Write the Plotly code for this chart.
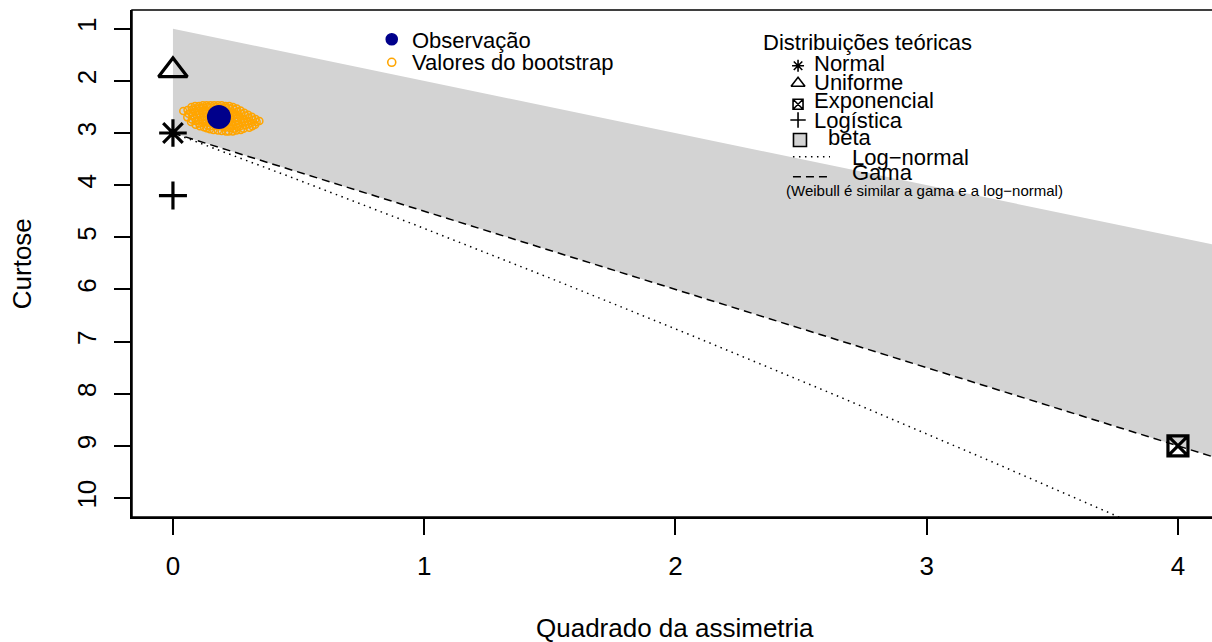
import plotly.graph_objects as go

# Observed sample: squared skewness and kurtosis
obs_sq_skew = [0.183]
obs_kurt = [2.695]

# Bootstrap replicates of (squared skewness, kurtosis)
boot_sq_skew = [
    0.041,
    0.058, 0.062, 0.057,
    0.074, 0.077, 0.073, 0.078, 0.075, 0.072,
    0.088, 0.092, 0.089, 0.093, 0.087, 0.091, 0.090,
    0.104, 0.107, 0.103, 0.106, 0.108, 0.102, 0.105, 0.107,
    0.119, 0.121, 0.118, 0.124, 0.122, 0.117, 0.120, 0.123,
    0.134, 0.137, 0.131, 0.136, 0.139, 0.133, 0.135, 0.138, 0.134,
    0.149, 0.151, 0.148, 0.153, 0.150, 0.146, 0.152, 0.150, 0.147,
    0.164, 0.168, 0.162, 0.166, 0.169, 0.163, 0.165, 0.167, 0.161,
    0.179, 0.181, 0.178, 0.184, 0.182, 0.176, 0.180, 0.183, 0.179,
    0.194, 0.198, 0.192, 0.196, 0.197, 0.193, 0.195, 0.199, 0.194,
    0.209, 0.211, 0.207, 0.213, 0.210, 0.206, 0.212, 0.208, 0.211,
    0.224, 0.227, 0.221, 0.226, 0.229, 0.223, 0.225, 0.228, 0.222,
    0.239, 0.243, 0.238, 0.241, 0.244, 0.236, 0.240, 0.242, 0.238,
    0.254, 0.256, 0.252, 0.258, 0.255, 0.251, 0.257, 0.253,
    0.269, 0.272, 0.267, 0.271, 0.274, 0.268, 0.270,
    0.284, 0.288, 0.283, 0.286, 0.287, 0.281,
    0.299, 0.302, 0.297, 0.301, 0.304,
    0.314, 0.318, 0.312, 0.316,
    0.329, 0.333, 0.327,
    0.344,
]
boot_kurt = [
    2.58,
    2.56, 2.63, 2.70,
    2.50, 2.55, 2.61, 2.67, 2.74, 2.79,
    2.48, 2.53, 2.59, 2.65, 2.71, 2.77, 2.84,
    2.48, 2.52, 2.58, 2.64, 2.70, 2.76, 2.82, 2.87,
    2.47, 2.51, 2.57, 2.63, 2.69, 2.75, 2.81, 2.89,
    2.47, 2.50, 2.56, 2.62, 2.68, 2.74, 2.80, 2.86, 2.91,
    2.47, 2.51, 2.57, 2.63, 2.69, 2.75, 2.81, 2.87, 2.93,
    2.47, 2.50, 2.56, 2.62, 2.68, 2.74, 2.80, 2.86, 2.94,
    2.47, 2.51, 2.57, 2.63, 2.69, 2.75, 2.81, 2.87, 2.95,
    2.47, 2.52, 2.58, 2.64, 2.70, 2.76, 2.82, 2.88, 2.96,
    2.48, 2.52, 2.58, 2.64, 2.70, 2.76, 2.83, 2.90, 2.97,
    2.48, 2.53, 2.59, 2.65, 2.71, 2.78, 2.85, 2.91, 2.97,
    2.50, 2.55, 2.61, 2.67, 2.73, 2.79, 2.86, 2.92, 2.97,
    2.53, 2.59, 2.65, 2.71, 2.77, 2.83, 2.89, 2.95,
    2.57, 2.63, 2.69, 2.75, 2.81, 2.87, 2.94,
    2.61, 2.67, 2.73, 2.79, 2.85, 2.92,
    2.65, 2.71, 2.77, 2.83, 2.90,
    2.69, 2.75, 2.81, 2.87,
    2.73, 2.79, 2.84,
    2.77,
]

# Theoretical distributions shown as single points
theo_names = ["Normal", "Uniforme", "Exponencial", "Logística"]
theo_sq_skew = [0, 0, 4, 0]
theo_kurt = [3, 1.8, 9, 4.2]

# Beta region (between the lower bound and the gamma line)
beta_sq_skew = [0, 4.3, 4.3, 0]
beta_kurt = [1, 5.3, 9.45, 3]

# Gamma line and log-normal curve
gamma_sq_skew = [0, 4.3]
gamma_kurt = [3, 9.45]
lnorm_sq_skew = [0, 0.465, 0.961, 1.488, 2.048, 2.641, 3.267, 3.793]
lnorm_kurt = [3, 3.838, 4.756, 5.758, 6.850, 8.035, 9.320, 10.423]

x_ticks = [0, 1, 2, 3, 4]
y_ticks = [1, 2, 3, 4, 5, 6, 7, 8, 9, 10]

FONT = "Liberation Sans, Arial, Helvetica, sans-serif"
GRAY = "#D3D3D3"
DASH = "8px,5px"
DOT = "1.5px,4.5px"

fig = go.Figure()

fig.add_trace(go.Scatter(x=beta_sq_skew, y=beta_kurt, mode="lines", fill="toself",
                         fillcolor=GRAY, line=dict(width=0), hoverinfo="skip"))
fig.add_trace(go.Scatter(x=gamma_sq_skew, y=gamma_kurt, mode="lines",
                         line=dict(color="black", width=1.5, dash=DASH)))
fig.add_trace(go.Scatter(x=lnorm_sq_skew, y=lnorm_kurt, mode="lines",
                         line=dict(color="black", width=1.5, dash=DOT)))
fig.add_trace(go.Scatter(
    x=theo_sq_skew, y=theo_kurt, mode="markers", text=theo_names,
    marker=dict(symbol=["asterisk-open", "triangle-up-open", "square-x-open", "cross-thin-open"],
                size=[23, 25, 20, 20], color="black", opacity=1,
                line=dict(color="black", width=3.2))))
fig.add_trace(go.Scatter(x=boot_sq_skew, y=boot_kurt, mode="markers",
                         marker=dict(symbol="circle-open", size=7, color="orange", opacity=1,
                                     line=dict(color="orange", width=1.5))))
fig.add_trace(go.Scatter(x=obs_sq_skew, y=obs_kurt, mode="markers",
                         marker=dict(symbol="circle", size=24, color="darkblue", opacity=1)))

# Legend keys, placed in plot-area fractions on an overlay axis pair
key_x = [0.2405, 0.2405, 0.6167, 0.6167, 0.6167, 0.6167, 0.6185]
key_y = [0.9422, 0.8968, 0.8901, 0.8554, 0.8140, 0.7830, 0.7436]
key_sym = ["circle", "circle-open", "asterisk-open", "triangle-up-open",
           "square-x-open", "cross-thin-open", "square"]
key_size = [11, 8, 10, 12, 10, 11, 13]
key_fill = ["darkblue", "orange", "black", "black", "black", "black", GRAY]
key_line = ["darkblue", "orange", "black", "black", "black", "black", "black"]
fig.add_trace(go.Scatter(
    x=key_x, y=key_y, mode="markers", xaxis="x2", yaxis="y2",
    marker=dict(symbol=key_sym, size=key_size, color=key_fill, opacity=1,
                line=dict(color=key_line, width=1.6))))
fig.add_trace(go.Scatter(x=[0.6120, 0.6463], y=[0.7107, 0.7107], mode="lines",
                         xaxis="x2", yaxis="y2",
                         line=dict(color="black", width=1.5, dash=DOT)))
fig.add_trace(go.Scatter(x=[0.6120, 0.6444], y=[0.6712, 0.6712], mode="lines",
                         xaxis="x2", yaxis="y2",
                         line=dict(color="black", width=1.5, dash=DASH)))

axis_common = dict(showgrid=False, zeroline=False, showline=True, linecolor="black",
                   linewidth=1.5, ticks="outside", ticklen=16, tickwidth=1.5,
                   tickcolor="black", tickfont=dict(size=26, color="black", family=FONT))

fig.update_layout(
    width=1212, height=642,
    margin=dict(l=132, r=0, t=10, b=125),
    plot_bgcolor="white", paper_bgcolor="white",
    showlegend=False,
    font=dict(family=FONT, color="black"),
    xaxis=dict(range=[-0.163, 4.1355], tickvals=x_ticks, ticklabelstandoff=9, **axis_common),
    yaxis=dict(range=[10.364, 0.641], tickvals=y_ticks, tickangle=-90,
               ticklabelstandoff=8, **axis_common),
    xaxis2=dict(overlaying="x", range=[0, 1], visible=False),
    yaxis2=dict(overlaying="y", range=[0, 1], visible=False),
    shapes=[dict(type="rect", xref="paper", yref="paper", x0=0, x1=1.01, y0=0, y1=1,
                 line=dict(color="black", width=1.5), layer="above")],
)

def label(text, x, y, size=22, xanchor="left", **kw):
    fig.add_annotation(text=text, x=x, y=y, xref="paper", yref="paper",
                       xanchor=xanchor, yanchor="middle", showarrow=False,
                       font=dict(size=size, family=FONT, color="black"), **kw)

label("Observação", 0.2574, 0.9408)
label("Valores do bootstrap", 0.2574, 0.8959)
label("Distribuições teóricas", 0.5824, 0.9359)
label("Normal", 0.6296, 0.8935)
label("Uniforme", 0.6296, 0.8570)
label("Exponencial", 0.6296, 0.8215)
label("Logística", 0.6296, 0.7821)
label("beta", 0.6426, 0.7485)
label("Log−normal", 0.6648, 0.7081)
label("Gama", 0.6648, 0.6795)
label("(Weibull é similar a gama e a log−normal)", 0.6037, 0.6430, size=15)

# Axis titles
fig.add_annotation(text="Quadrado da assimetria", x=2.0, y=-0.2190, xref="x", yref="paper",
                   xanchor="center", yanchor="middle", showarrow=False,
                   font=dict(size=26, family=FONT, color="black"))
label("Curtose", -0.1021, 0.5, size=26, xanchor="center", textangle=-90)

fig.write_html("out.html")
